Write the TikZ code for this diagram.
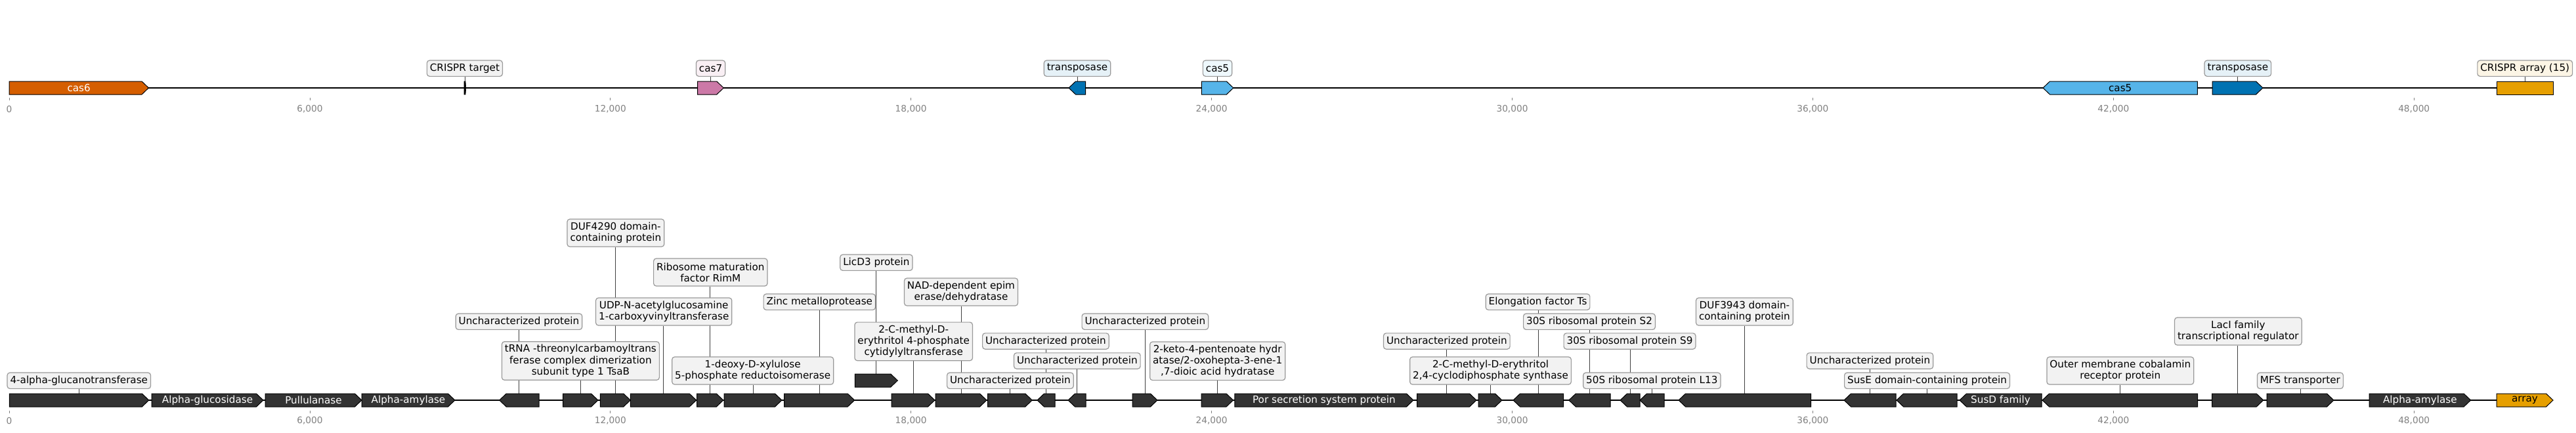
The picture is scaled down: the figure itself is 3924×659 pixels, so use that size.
\documentclass[tikz,border=0pt]{standalone}
\usepackage{fontspec}
\setmainfont{DejaVu Sans}
\usetikzlibrary{backgrounds}
\definecolor{genegray}{HTML}{333333}
\definecolor{boxgray}{HTML}{F2F2F2}
\definecolor{boxedge}{HTML}{999999}
\definecolor{casorange}{HTML}{D55E00}
\definecolor{caspink}{HTML}{CC79A7}
\definecolor{tnpblue}{HTML}{0072B2}
\definecolor{casblue}{HTML}{56B4E9}
\definecolor{arrayyellow}{HTML}{E69F00}

\begin{document}
\begin{tikzpicture}[x=1pt,y=-1pt,
  gene/.style={draw=black,line width=1pt,fill=genegray},
  lbl/.style={draw=boxedge,fill=boxgray,rounded corners=4pt,line width=1.2pt,
              inner xsep=4.5pt,inner ysep=0pt,
              font={\fontsize{15.2}{17.3}\selectfont}},
  one/.style={lbl,minimum height=24.3pt},
  two/.style={lbl,align=center,minimum height=42pt},
  three/.style={lbl,align=center,minimum height=58.6pt},
  conn/.style={draw=black!75,line width=0.8pt},
  gname/.style={text=white,inner sep=0pt,font={\fontsize{15.2}{17.3}\selectfont}},
  tick/.style={draw=black!50,line width=0.8pt},
  ticklbl/.style={text=black!50,font={\fontsize{13.7}{16}\selectfont}},
  track/.style={line width=2pt}]
  \useasboundingbox (0,0) rectangle (3924,659);

  % axes
  \foreach \k/\t in {0/0,1/{6,000},2/{12,000},3/{18,000},4/{24,000},5/{30,000},6/{36,000},7/{42,000},8/{48,000}}{
    \draw[tick] ({14+457.9*\k},149) -- ++(0,4);
    \node[ticklbl] (tt\k) at ({14+457.9*\k},166.7) {\t};
    \draw[tick] ({14+457.9*\k},626) -- ++(0,4);
    \node[ticklbl] (tb\k) at ({14+457.9*\k},641.7) {\t};
  }
  \draw[track] (14,134) -- (3889,134);
  \draw[track] (14,610) -- (3889,610);

  % CRISPR-Cas track
  \draw[gene,fill=casorange] (14,124) -- (216,124) -- (226.4,134) -- (216,144) -- (14,144) -- cycle;
  \coordinate (t1) at (120.2,124);
  \node[gname] (n1) at (120.2,134) {cas6};
  \draw[gene,line width=0.6pt,fill=black] (707,124) -- (709,124) -- (709.8,134) -- (709,144) -- (707,144) -- cycle;
  \coordinate (t2) at (708,124);
  \draw[gene,fill=caspink] (1062.7,124) -- (1091.8,124) -- (1102.3,134) -- (1091.8,144) -- (1062.7,144) -- cycle;
  \coordinate (t3) at (1082.5,124);
  \draw[gene,fill=tnpblue] (1628,134) -- (1638.5,124) -- (1653.7,124) -- (1653.7,144) -- (1638.5,144) -- cycle;
  \coordinate (t4) at (1640.9,124);
  \draw[gene,fill=casblue] (1830.4,124) -- (1868.3,124) -- (1878.8,134) -- (1868.3,144) -- (1830.4,144) -- cycle;
  \coordinate (t5) at (1854.6,124);
  \draw[gene,fill=casblue] (3112,134) -- (3122.5,124) -- (3347.3,124) -- (3347.3,144) -- (3122.5,144) -- cycle;
  \node[gname,text=black] (n6) at (3229.7,134) {cas5};
  \draw[gene,fill=tnpblue] (3370,124) -- (3436.5,124) -- (3447,134) -- (3436.5,144) -- (3370,144) -- cycle;
  \coordinate (t7) at (3408.5,124);
  \draw[gene,fill=arrayyellow] (3803,124) rectangle (3889,144);
  \coordinate (t8) at (3846,124);

  \node[one] (b2) at (707.9,104.2) {CRISPR target};
  \node[one,fill=caspink!12] (b3) at (1082.6,104.2) {cas7};
  \node[one,fill=tnpblue!10] (b4) at (1641,104.2) {transposase};
  \node[one,fill=casblue!10] (b5) at (1854.5,104.2) {cas5};
  \node[one,fill=tnpblue!10] (b7) at (3408.8,104.2) {transposase};
  \node[one,fill=arrayyellow!10] (b8) at (3846.2,104.2) {CRISPR array (15)};

  % neighbourhood track
  \foreach \a/\b/\n in {14.3/226.8/g1,231/401/g2,404/551/g3,551/693/g4,857.6/911/g6,
      914.3/960.3/g7,960.3/1060.7/g8,1061.6/1101.8/g9,1103/1191/g10,1194.6/1301.7/g11,
      1358/1424/g13,1425/1503/g14,1504.5/1572.3/g15,1725/1763/g18,1830/1878.5/g19,
      1880.8/2153/g20,2158.5/2249/g21,2252/2288/g22,3369.5/3447.7/g32,3453/3555/g33,
      3609/3763.6/g34}{
    \draw[gene] (\a,600) -- (\b-10.5,600) -- (\b,610) -- (\b-10.5,620) -- (\a,620) -- cycle;
    \coordinate (\n) at ({(\a+\b)/2},600);
  }
  \foreach \a/\b/\n in {760.7/821/g5,1580/1607/g16,1627/1654/g17,2305/2381.7/g23,
      2389.8/2453/g24,2468/2498/g25,2498/2535/g26,2557/2758.5/g27,2809/2888/g28,
      2889/2981/g29,2985/3110/g30,3111/3347.6/g31}{
    \draw[gene] (\a,610) -- (\a+10.5,600) -- (\b,600) -- (\b,620) -- (\a+10.5,620) -- cycle;
    \coordinate (\n) at ({(\a+\b)/2},600);
  }
  \draw[gene] (1302.3,570) -- (1356.8,570) -- (1367.3,580) -- (1356.8,590) -- (1302.3,590) -- cycle;
  \coordinate (g12) at (1334.8,570);
  \draw[gene,fill=arrayyellow] (3803,600) -- (3878.5,600) -- (3889,610) -- (3878.5,620) -- (3803,620) -- cycle;

  \node[gname] (n2) at (316,610) {Alpha-glucosidase};
  \node[gname] (n3) at (477.5,610) {Pullulanase};
  \node[gname] (n4) at (622,610) {Alpha-amylase};
  \node[gname] (n20) at (2016.9,610) {Por secretion system protein};
  \node[gname] (n30) at (3047.5,610) {SusD family};
  \node[gname] (n34) at (3686.3,610) {Alpha-amylase};
  \node[gname,text=black] (n35) at (3846,610) {array};

  \node[one] (l1) at (120.3,580.2) {4-alpha-glucanotransferase\ };
  \node[one] (l5) at (790.5,490.2) {Uncharacterized protein\ };
  \node[three] (l6) at (884.4,550) {tRNA -threonylcarbamoyltrans\\ferase complex dimerization\\subunit type 1 TsaB};
  \node[two] (l7) at (937.9,355) {DUF4290 domain-\\containing protein};
  \node[two] (l8) at (1011.2,475) {UDP-N-acetylglucosamine\\1-carboxyvinyltransferase};
  \node[two] (l9) at (1082.3,415) {Ribosome maturation\\factor RimM};
  \node[two] (l10) at (1146.7,565) {1-deoxy-D-xylulose\\5-phosphate reductoisomerase};
  \node[one] (l11) at (1248.3,460.2) {Zinc metalloprotease\ };
  \node[one] (l12) at (1334.9,400.2) {LicD3 protein\ };
  \node[three] (l13) at (1391.7,520.4) {2-C-methyl-D-\\erythritol 4-phosphate\\cytidylyltransferase};
  \node[two] (l14) at (1464,445) {NAD-dependent epim\\erase/dehydratase};
  \node[one] (l15) at (1538.9,580.2) {Uncharacterized protein\ };
  \node[one] (l16) at (1592.9,520) {Uncharacterized protein\ };
  \node[one] (l17) at (1640.8,550) {Uncharacterized protein\ };
  \node[one] (l18) at (1744.4,490.2) {Uncharacterized protein\ };
  \node[three] (l19) at (1854.7,550.3) {2-keto-4-pentenoate hydr\\atase/2-oxohepta-3-ene-1\\,7-dioic acid hydratase};
  \node[one] (l21) at (2203.8,520) {Uncharacterized protein\ };
  \node[two] (l22) at (2270.5,565) {2-C-methyl-D-erythritol\\2,4-cyclodiphosphate synthase};
  \node[one] (l23) at (2342.5,460.2) {Elongation factor Ts\ };
  \node[one] (l24) at (2421,490.2) {30S ribosomal protein S2\ };
  \node[one] (l25) at (2482.5,520) {30S ribosomal protein S9\ };
  \node[one] (l26) at (2516.3,580.2) {50S ribosomal protein L13\ };
  \node[two] (l27) at (2657.4,475) {DUF3943 domain-\\containing protein};
  \node[one] (l28) at (2848.4,550) {Uncharacterized protein\ };
  \node[one] (l29) at (2935.5,580.2) {SusE domain-containing protein};
  \node[two] (l31) at (3229.8,565) {Outer membrane cobalamin\\receptor protein};
  \node[two] (l32) at (3409.3,505) {LacI family\\transcriptional regulator};
  \node[one] (l33) at (3503.9,580.2) {MFS transporter\ };

  \begin{scope}[on background layer]
    \foreach \i in {2,3,4,5,7,8}
      \draw[conn] (t\i) -- (t\i |- b\i.south);
    \foreach \i in {1,5,6,7,8,9,10,11,12,13,14,15,16,17,18,19,21,22,23,24,25,26,27,28,29,31,32,33}
      \draw[conn] (g\i) -- (g\i |- l\i.south);
  \end{scope}
\end{tikzpicture}
\end{document}
